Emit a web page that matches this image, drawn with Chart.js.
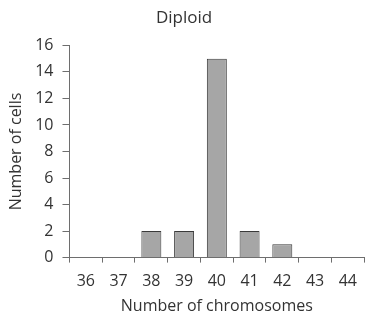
<!DOCTYPE html>
<html>
<head>
<meta charset="utf-8">
<script src="https://cdn.jsdelivr.net/npm/chart.js@4/dist/chart.umd.min.js"></script>
<style>
  html, body { margin: 0; padding: 0; background: #fff; }
  #wrap { width: 366px; height: 322px; }
</style>
</head>
<body>
<div id="wrap"><canvas id="grafico"></canvas></div>
<script>
// Dados do histograma (Diploid)
const cromossomos = ['36', '37', '38', '39', '40', '41', '42', '43', '44'];
const celulas = [0, 0, 2, 2, 15, 2, 1, 0, 0];
const ticksY = [0, 2, 4, 6, 8, 10, 12, 14, 16];

const fonte = "'Open Sans', Lato, sans-serif";
const corTexto = '#333333';
const corEixo = '#6e6e6e';

new Chart(document.getElementById('grafico').getContext('2d'), {
  type: 'bar',
  data: {
    labels: cromossomos,
    datasets: [{
      data: celulas,
      backgroundColor: '#a6a6a6',
      borderColor: '#3a3a3a',
      borderWidth: 1,
      borderSkipped: 'bottom',
      categoryPercentage: 1,
      barPercentage: 0.61
    }]
  },
  options: {
    responsive: true,
    maintainAspectRatio: false,
    animation: false,
    layout: { padding: { top: 0, right: 1, left: 3, bottom: 6 } },
    plugins: {
      legend: { display: false },
      tooltip: { enabled: false },
      title: {
        display: true,
        text: 'Diploid',
        color: corTexto,
        font: { family: fonte, size: 17, weight: 'normal' },
        padding: { top: 8, bottom: 17 }
      }
    },
    scales: {
      x: {
        grid: { drawOnChartArea: false, offset: true, color: corEixo, tickLength: 5 },
        border: { color: corEixo, width: 1 },
        ticks: { color: corTexto, font: { family: fonte, size: 16 }, padding: 9, maxRotation: 0 },
        title: { display: true, text: 'Number of chromosomes', color: corTexto, font: { family: fonte, size: 16 }, padding: { top: -3, bottom: 0 } }
      },
      y: {
        min: 0,
        max: 16,
        afterBuildTicks: ax => { ax.ticks = ticksY.map(v => ({ value: v })); },
        grid: { drawOnChartArea: false, color: corEixo, tickLength: 7 },
        border: { color: corEixo, width: 1 },
        ticks: { color: corTexto, font: { family: fonte, size: 16 }, padding: 9 },
        title: { display: true, text: 'Number of cells', color: corTexto, font: { family: fonte, size: 16 }, padding: { bottom: 0 } }
      }
    }
  }
});
</script>
</body>
</html>
